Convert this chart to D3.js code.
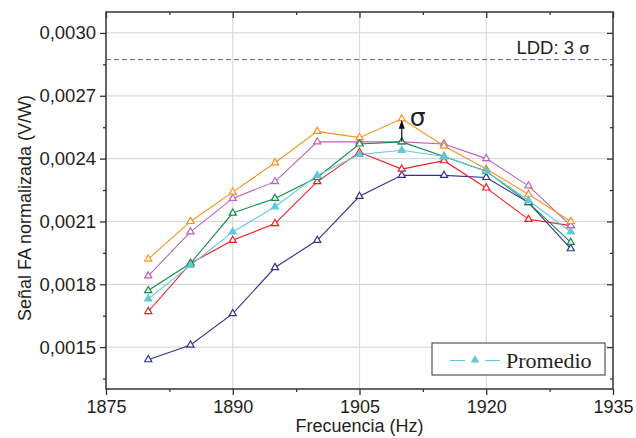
<!DOCTYPE html>
<html lang="es">
<head>
    <meta charset="UTF-8">
    <title>Señal FA normalizada vs frecuencia</title>
    <script src="https://d3js.org/d3.v7.min.js"></script>
    <style>
        body { margin: 0; background: #fff; }
        text { font-family: "Liberation Sans", Arial, sans-serif; fill: #231f20; }
    </style>
</head>
<body>
    <div id="chart"></div>
    <script>
        // Data
        var freq = [1880, 1885, 1890, 1895, 1900, 1905, 1910, 1915, 1920, 1925, 1930];
        var serieNaranja = [0.00192, 0.00210, 0.00224, 0.00238, 0.00253, 0.00250, 0.00259, 0.00246, 0.00235, 0.00223, 0.00210];
        var serieMagenta = [0.00184, 0.00205, 0.00221, 0.00229, 0.00248, 0.00248, 0.00248, 0.00247, 0.00240, 0.00227, 0.00208];
        var serieVerde   = [0.00177, 0.00190, 0.00214, 0.00221, 0.00231, 0.00247, 0.00248, 0.00241, 0.00234, 0.00219, 0.00200];
        var serieRoja    = [0.00167, 0.00190, 0.00201, 0.00209, 0.00229, 0.00243, 0.00235, 0.00239, 0.00226, 0.00211, 0.00208];
        var serieAzul    = [0.00144, 0.00151, 0.00166, 0.00188, 0.00201, 0.00222, 0.00232, 0.00232, 0.00231, 0.00219, 0.00197];
        var promedio     = [0.00173, 0.00189, 0.00205, 0.00217, 0.00232, 0.00242, 0.00244, 0.00241, 0.00234, 0.00220, 0.00205];
        var ldd = 0.002873;

        var xTicks = [1875, 1890, 1905, 1920, 1935];
        var xMinor = [1882.5, 1897.5, 1912.5, 1927.5];
        var yTicks = [0.0015, 0.0018, 0.0021, 0.0024, 0.0027, 0.0030];
        var yMinor = [0.00135, 0.00165, 0.00195, 0.00225, 0.00255, 0.00285];

        var width = 636, height = 438;
        var margin = { top: 12, right: 23, bottom: 49, left: 106 };
        var w = width - margin.left - margin.right;
        var h = height - margin.top - margin.bottom;

        var locale = d3.formatLocale({ decimal: ",", thousands: ".", grouping: [3], currency: ["", ""] });
        var fmt = locale.format(".4f");

        var x = d3.scaleLinear().domain([1875, 1935]).range([0, w]);
        var y = d3.scaleLinear().domain([0.0013, 0.0031]).range([h, 0]);

        var svg = d3.select("#chart").append("svg")
            .attr("width", width)
            .attr("height", height);

        var g = svg.append("g")
            .attr("transform", "translate(" + margin.left + "," + margin.top + ")");

        // grid
        g.selectAll(".gx").data(xTicks.slice(1, -1)).enter().append("line")
            .attr("x1", d => x(d)).attr("x2", d => x(d))
            .attr("y1", 0).attr("y2", h)
            .attr("stroke", "#d9d9d9").attr("stroke-width", 1.2);
        g.selectAll(".gy").data(yTicks).enter().append("line")
            .attr("x1", 0).attr("x2", w)
            .attr("y1", d => y(d)).attr("y2", d => y(d))
            .attr("stroke", "#d9d9d9").attr("stroke-width", 1.2);

        // LDD dashed line
        g.append("line")
            .attr("x1", 0).attr("x2", w)
            .attr("y1", y(ldd)).attr("y2", y(ldd))
            .attr("stroke", "#6f65b5").attr("stroke-width", 1)
            .attr("stroke-dasharray", "5,3");

        var ldText = g.append("text")
            .attr("x", x(1932.2)).attr("y", y(ldd) - 6)
            .attr("text-anchor", "end")
            .style("font-size", "18.5px");
        ldText.append("tspan").text("LDD: 3 ");
        ldText.append("tspan").style("font-family", "'DejaVu Sans', sans-serif").style("font-size", "16px").text("σ");

        // axes: bottom/left outward, top/right inward
        var axisStyle = function (sel) {
            sel.select(".domain").remove();
            sel.selectAll("line").attr("stroke", "#333").attr("stroke-width", 1.3);
        };

        g.append("g").attr("transform", "translate(0," + h + ")")
            .call(d3.axisBottom(x).tickValues(xTicks).tickSize(6).tickPadding(5).tickFormat(d3.format("d")))
            .call(axisStyle)
            .selectAll("text").style("font-size", "18px").style("font-family", "'Liberation Sans', Arial, sans-serif").attr("fill", "#231f20");
        g.append("g").attr("transform", "translate(0," + h + ")")
            .call(d3.axisBottom(x).tickValues(xMinor).tickSize(3).tickFormat(""))
            .call(axisStyle);
        g.append("g")
            .call(d3.axisBottom(x).tickValues(xTicks).tickSize(6).tickFormat(""))
            .call(axisStyle);
        g.append("g")
            .call(d3.axisBottom(x).tickValues(xMinor).tickSize(3).tickFormat(""))
            .call(axisStyle);

        g.append("g")
            .call(d3.axisLeft(y).tickValues(yTicks).tickSize(6).tickPadding(4).tickFormat(fmt))
            .call(axisStyle)
            .selectAll("text").style("font-size", "18.5px").style("font-family", "'Liberation Sans', Arial, sans-serif").attr("fill", "#231f20");
        g.append("g")
            .call(d3.axisLeft(y).tickValues(yMinor).tickSize(3).tickFormat(""))
            .call(axisStyle);
        g.append("g").attr("transform", "translate(" + w + ",0)")
            .call(d3.axisLeft(y).tickValues(yTicks).tickSize(6).tickFormat(""))
            .call(axisStyle);
        g.append("g").attr("transform", "translate(" + w + ",0)")
            .call(d3.axisLeft(y).tickValues(yMinor).tickSize(3).tickFormat(""))
            .call(axisStyle);

        // frame
        g.append("rect")
            .attr("x", 0).attr("y", 0).attr("width", w).attr("height", h)
            .attr("fill", "none").attr("stroke", "#333").attr("stroke-width", 1.5);

        // series
        var series = [
            { values: serieAzul, color: "#2e3192", filled: false },
            { values: serieRoja, color: "#ee1c25", filled: false },
            { values: serieMagenta, color: "#c060b8", filled: false },
            { values: serieNaranja, color: "#f7931e", filled: false },
            { values: serieVerde, color: "#168a48", filled: false },
            { values: promedio, color: "#62c8da", filled: true }
        ];

        var line = d3.line().x((d, i) => x(freq[i])).y(d => y(d));
        var tri = d3.symbol().type(d3.symbolTriangle).size(22);

        series.forEach(function (s) {
            g.append("path")
                .attr("d", line(s.values))
                .attr("fill", "none")
                .attr("stroke", s.color)
                .attr("stroke-width", 1.1);
        });
        series.forEach(function (s) {
            g.selectAll(null).data(s.values).enter().append("path")
                .attr("d", tri)
                .attr("transform", (d, i) => "translate(" + x(freq[i]) + "," + y(d) + ")")
                .attr("fill", s.filled ? s.color : "#fff")
                .attr("stroke", s.color)
                .attr("stroke-width", 1.2);
        });

        // sigma arrow at 1910
        var ia = freq.indexOf(1910);
        var xa = x(freq[ia]);
        var yTop = y(serieNaranja[ia]) + 1;
        var yBot = y(serieMagenta[ia]);
        g.append("line")
            .attr("x1", xa).attr("x2", xa)
            .attr("y1", yBot).attr("y2", yTop + 7)
            .attr("stroke", "#111").attr("stroke-width", 1.2);
        g.append("path")
            .attr("d", "M" + xa + "," + yTop + "L" + (xa - 3) + "," + (yTop + 9) + "L" + (xa + 3) + "," + (yTop + 9) + "Z")
            .attr("fill", "#111");
        g.append("text")
            .attr("x", xa + 8).attr("y", yTop + 6)
            .style("font-family", "'DejaVu Sans', sans-serif")
            .style("font-size", "25px")
            .text("σ");

        // legend
        var lg = g.append("g").attr("transform", "translate(" + (432 - margin.left) + "," + (343 - margin.top) + ")");
        lg.append("rect")
            .attr("width", 173).attr("height", 32)
            .attr("fill", "#fff").attr("stroke", "#333").attr("stroke-width", 1);
        lg.append("line").attr("x1", 18).attr("x2", 33).attr("y1", 17.5).attr("y2", 17.5)
            .attr("stroke", "#62c8da").attr("stroke-width", 1.1);
        lg.append("line").attr("x1", 53).attr("x2", 68).attr("y1", 17.5).attr("y2", 17.5)
            .attr("stroke", "#62c8da").attr("stroke-width", 1.1);
        lg.append("path").attr("d", tri).attr("transform", "translate(43,17)")
            .attr("fill", "#62c8da").attr("stroke", "#62c8da");
        lg.append("text")
            .attr("x", 74).attr("y", 25)
            .style("font-family", "'Liberation Serif', 'Times New Roman', serif")
            .style("font-size", "22px")
            .text("Promedio");

        // axis titles
        svg.append("text")
            .attr("x", margin.left + w / 2).attr("y", 432)
            .attr("text-anchor", "middle")
            .style("font-size", "18px")
            .text("Frecuencia (Hz)");
        svg.append("text")
            .attr("transform", "translate(31," + 208 + ") rotate(-90)")
            .attr("text-anchor", "middle")
            .style("font-size", "18px")
            .text("Señal FA normalizada (V/W)");
    </script>
</body>
</html>
